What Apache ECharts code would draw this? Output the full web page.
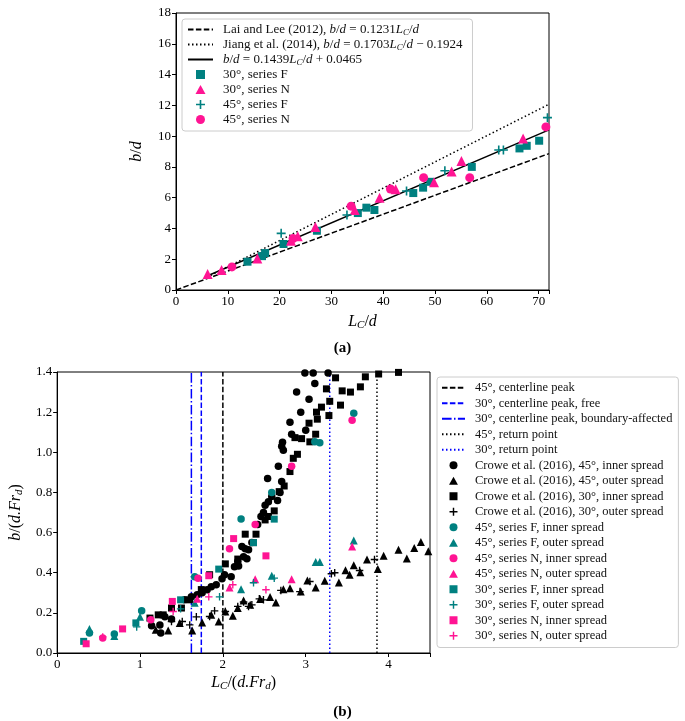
<!DOCTYPE html>
<html><head><meta charset="utf-8">
<script src="https://cdn.jsdelivr.net/npm/echarts@6/dist/echarts.min.js"></script>
<style>html,body{margin:0;padding:0;background:#fff}#c{width:685px;height:721px}</style>
</head><body><div id="c"></div><script>
// ---------- Panel (a) data ----------
var aXTicks = [0, 10, 20, 30, 40, 50, 60, 70];
var aYTicks = [0, 2, 4, 6, 8, 10, 12, 14, 16, 18];
// fitted lines: [slope, intercept], x-range
var laiCoef = [0.1231, 0];      var laiRange = [0, 72];
var jiangCoef = [0.1703, -0.1924]; var jiangRange = [6, 72];
var fitCoef = [0.1439, 0.0465];  var fitRange = [6, 72];
var a30F = [[13.8,1.84],[16.6,2.2],[17.2,2.4],[20.75,2.99],[27.2,3.85],[35.1,5.0],[36.75,5.35],[38.3,5.2],[45.8,6.3],[47.7,6.65],[49.1,7.03],[57.1,8.0],[66.3,9.2],[67.7,9.37],[70.1,9.7]];
var a30N = [[6.1,1.04],[8.8,1.3],[15.7,2.05],[22.2,3.2],[23.5,3.5],[26.9,4.1],[34.5,5.2],[39.3,6.0],[42.4,6.54],[49.8,7.0],[53.2,7.7],[55.1,8.38],[67.0,9.85]];
var a45F = [[20.3,3.68],[33.0,4.87],[44.5,6.43],[51.9,7.75],[62.3,9.1],[63.2,9.1],[71.7,11.2]];
var a45N = [[10.8,1.5],[22.6,3.35],[33.8,5.45],[41.4,6.56],[47.8,7.3],[56.7,7.3],[71.4,10.6]];

// ---------- Panel (b) data ----------
var bXTicks = [0, 1, 2, 3, 4];
var bYTicks = [0, 0.2, 0.4, 0.6, 0.8, 1.0, 1.2, 1.4];
var vPeak45 = 2.0, vPeak30free = 1.74, vPeak30bound = 1.62, vReturn45 = 3.86, vReturn30 = 3.29;
var crowe45in = [[1.14,0.136],[1.24,0.14],[1.25,0.10],[1.30,0.18],[1.38,0.17],[1.54,0.265],[1.62,0.28],[1.69,0.29],[1.75,0.30],[1.81,0.315],[1.86,0.33],[1.92,0.34],[1.99,0.37],[2.02,0.39],[2.10,0.38],[2.14,0.43],[2.18,0.456],[2.19,0.434],[2.23,0.53],[2.25,0.48],[2.27,0.52],[2.29,0.47],[2.31,0.514],[2.35,0.55],[2.42,0.64],[2.46,0.68],[2.49,0.70],[2.51,0.736],[2.54,0.87],[2.55,0.754],[2.59,0.78],[2.66,0.76],[2.67,0.93],[2.69,0.80],[2.71,0.854],[2.71,1.03],[2.72,1.05],[2.73,1.01],[2.81,1.15],[2.83,1.09],[2.89,1.30],[2.94,1.20],[3.00,1.11],[3.04,1.264],[3.11,1.343],[2.99,1.395],[3.09,1.395],[3.27,1.395]];
var crowe45out = [[1.19,0.116],[1.34,0.112],[1.48,0.15],[1.63,0.112],[1.75,0.152],[1.86,0.19],[1.95,0.157],[2.03,0.207],[2.12,0.186],[2.18,0.224],[2.25,0.262],[2.33,0.24],[2.45,0.269],[2.57,0.279],[2.64,0.252],[2.73,0.318],[2.81,0.323],[2.94,0.306],[3.02,0.361],[3.12,0.326],[3.23,0.36],[3.40,0.351],[3.48,0.412],[3.53,0.39],[3.58,0.437],[3.66,0.402],[3.74,0.466],[3.87,0.419],[3.94,0.484],[4.12,0.514],[4.22,0.471],[4.31,0.523],[4.39,0.553],[4.48,0.507]];
var crowe30in = [[1.12,0.174],[1.22,0.19],[1.28,0.19],[1.38,0.224],[1.50,0.224],[1.60,0.265],[1.74,0.316],[1.84,0.39],[2.03,0.444],[2.18,0.468],[2.27,0.592],[2.37,0.55],[2.40,0.592],[2.51,0.663],[2.55,0.68],[2.62,0.708],[2.68,0.804],[2.74,0.832],[2.81,0.904],[2.85,0.97],[2.90,0.99],[2.87,1.073],[2.95,1.068],[3.05,1.052],[3.04,1.145],[3.12,1.09],[3.13,1.20],[3.14,1.165],[3.19,1.225],[3.28,1.183],[3.29,1.254],[3.25,1.316],[3.36,1.371],[3.42,1.235],[3.44,1.306],[3.54,1.30],[3.66,1.326],[3.72,1.376],[3.88,1.39],[4.12,1.398]];
var crowe30out = [[1.38,0.157],[1.51,0.157],[1.60,0.14],[1.68,0.18],[1.84,0.182],[1.90,0.21],[2.03,0.207],[2.18,0.232],[2.25,0.254],[2.31,0.232],[2.35,0.24],[2.44,0.27],[2.49,0.265],[2.70,0.312],[2.93,0.306],[3.05,0.356],[3.31,0.395],[3.35,0.40],[3.65,0.411],[3.83,0.466]];
var b45Fin = [[0.39,0.10],[0.69,0.095],[1.02,0.21],[1.66,0.38],[2.22,0.668],[2.59,0.80],[3.11,1.053],[3.17,1.048],[3.58,1.194]];
var b45Fout = [[0.39,0.12],[0.69,0.085],[1.00,0.18],[1.66,0.25],[2.22,0.318],[2.59,0.385],[3.12,0.453],[3.17,0.453],[3.58,0.56]];
var b45Nin = [[0.55,0.075],[1.13,0.166],[1.70,0.373],[2.08,0.52],[2.39,0.64],[2.83,0.93],[3.56,1.16]];
var b45Nout = [[1.69,0.27],[2.08,0.326],[2.39,0.368],[2.83,0.368],[3.56,0.53]];
var b30Fin = [[0.32,0.058],[0.95,0.15],[1.49,0.265],[1.95,0.418],[2.37,0.55],[2.62,0.667]];
var b30Fout = [[0.96,0.13],[1.49,0.22],[1.96,0.28],[2.37,0.35],[2.62,0.373]];
var b30Nin = [[0.35,0.046],[0.79,0.12],[1.39,0.257],[1.83,0.385],[2.13,0.57],[2.52,0.484]];
var b30Nout = [[0.55,0.08],[1.40,0.207],[1.83,0.28],[2.12,0.34],[2.52,0.315]];

// ---------- styles ----------
var TEAL = '#008080', PINK = '#ff1493', BLUE = '#0000ff', BLACK = '#000';
var SERIF = 'Liberation Serif';
var PLUS = 'path://M0,4.1H10V5.9H0Z M4.1,0H5.9V10H4.1Z';
var SQUARE = 'path://M0,0H10V10H0Z';
var TRI = 'path://M5,0L10,9H0Z';
var DASH = [5.5, 2.4], DOT = [1.5, 2.5], DASHDOT = [9.6, 2.4, 1.5, 2.4];

function fitLine(coef, range) {
  return range.map(function (x) { return [x, coef[0] * x + coef[1]]; });
}
function vline(x) { return [[x, bYTicks[0]], [x, bYTicks[bYTicks.length - 1]]]; }

var richStyles = {
  i: {fontFamily: SERIF, fontStyle: 'italic', fontSize: 13, lineHeight: 15, color: '#111'},
  s: {fontFamily: SERIF, fontStyle: 'italic', fontSize: 9, lineHeight: 11, verticalAlign: 'bottom', color: '#111'},
  n: {fontFamily: SERIF, fontSize: 13, lineHeight: 15, color: '#111'}
};
var nameRich = {
  i: {fontFamily: SERIF, fontStyle: 'italic', fontSize: 16, lineHeight: 18, color: '#000'},
  s: {fontFamily: SERIF, fontStyle: 'italic', fontSize: 11, lineHeight: 13, verticalAlign: 'bottom', color: '#000'},
  n: {fontFamily: SERIF, fontSize: 16, lineHeight: 18, color: '#000'}
};

var N_LAI = 'Lai and Lee (2012), b/d = 0.1231L_C/d';
var N_JIANG = 'Jiang et al. (2014), b/d = 0.1703L_C/d − 0.1924';
var N_FIT = 'b/d = 0.1439L_C/d + 0.0465';
var legendRich = {};
legendRich[N_LAI] = '{n|Lai and Lee (2012), }{i|b}{n|/}{i|d}{n| = 0.1231}{i|L}{s|C}{n|/}{i|d}';
legendRich[N_JIANG] = '{n|Jiang et al. (2014), }{i|b}{n|/}{i|d}{n| = 0.1703}{i|L}{s|C}{n|/}{i|d}{n| − 0.1924}';
legendRich[N_FIT] = '{i|b}{n|/}{i|d}{n| = 0.1439}{i|L}{s|C}{n|/}{i|d}{n| + 0.0465}';

function axisBase(gridIdx) {
  return {
    gridIndex: gridIdx, type: 'value',
    axisLine: {show: true, onZero: false, lineStyle: {color: BLACK, width: 1}},
    axisTick: {show: true, length: 4, lineStyle: {color: BLACK, width: 1}},
    axisLabel: {color: '#000', fontFamily: SERIF, fontSize: 13, margin: 5},
    splitLine: {show: false}
  };
}

var xa0 = axisBase(0);
Object.assign(xa0, {min: aXTicks[0], max: 72, interval: 10, name: '{i|L}{s|C}{n|/}{i|d}', nameLocation: 'middle', nameGap: 23,
  nameTextStyle: {rich: nameRich}});
xa0.axisLabel.formatter = function (v) { return aXTicks.indexOf(v) >= 0 ? String(v) : ''; };
var ya0 = axisBase(0);
Object.assign(ya0, {min: aYTicks[0], max: aYTicks[aYTicks.length - 1], interval: 2, name: '{i|b}{n|/}{i|d}', nameLocation: 'middle', nameGap: 30, nameRotate: 90,
  nameTextStyle: {rich: nameRich}});
var xa1 = axisBase(1);
Object.assign(xa1, {min: bXTicks[0], max: 4.5, interval: 1, name: '{i|L}{s|C}{n|/(}{i|d.Fr}{s|d}{n|)}', nameLocation: 'middle', nameGap: 21,
  nameTextStyle: {rich: nameRich}});
xa1.axisLabel.formatter = function (v) { return bXTicks.indexOf(v) >= 0 ? String(v) : ''; };
var ya1 = axisBase(1);
Object.assign(ya1, {min: 0, max: 1.4, interval: 0.2, name: '{i|b}{n|/(}{i|d.Fr}{s|d}{n|)}', nameLocation: 'middle', nameGap: 30, nameRotate: 90,
  nameTextStyle: {rich: nameRich}});
ya1.axisLabel.formatter = function (v) { return v.toFixed(1); };

function sc(name, data, g, symbol, size, color) {
  return {type: 'scatter', name: name, xAxisIndex: g, yAxisIndex: g, data: data, symbol: symbol, symbolSize: size,
    itemStyle: {color: color, opacity: 1}, emphasis: {disabled: true}, animation: false};
}
function ln(name, data, g, color, dash) {
  return {type: 'line', name: name, xAxisIndex: g, yAxisIndex: g, data: data, symbol: 'none', showSymbol: false,
    lineStyle: {color: color, width: 1.5, type: dash}, itemStyle: {color: color}, emphasis: {disabled: true}, animation: false, z: 1};
}

var series = [
  ln(N_LAI, fitLine(laiCoef, laiRange), 0, BLACK, DASH),
  ln(N_JIANG, fitLine(jiangCoef, jiangRange), 0, BLACK, DOT),
  ln(N_FIT, fitLine(fitCoef, fitRange), 0, BLACK, 'solid'),
  sc('30°, series F', a30F, 0, 'rect', 8, TEAL),
  sc('30°, series N', a30N, 0, 'triangle', 10, PINK),
  sc('45°, series F', a45F, 0, PLUS, 9, TEAL),
  sc('45°, series N', a45N, 0, 'circle', 9, PINK),

  ln('45°, centerline peak', vline(vPeak45), 1, BLACK, DASH),
  ln('30°, centerline peak, free', vline(vPeak30free), 1, BLUE, DASH),
  ln('30°, centerline peak, boundary-affected', vline(vPeak30bound), 1, BLUE, DASHDOT),
  ln('45°, return point', vline(vReturn45), 1, BLACK, DOT),
  ln('30°, return point', vline(vReturn30), 1, BLUE, DOT),
  sc('Crowe et al. (2016), 45°, inner spread', crowe45in, 1, 'circle', 7.5, BLACK),
  sc('Crowe et al. (2016), 45°, outer spread', crowe45out, 1, 'triangle', 8, BLACK),
  sc('Crowe et al. (2016), 30°, inner spread', crowe30in, 1, 'rect', 7, BLACK),
  sc('Crowe et al. (2016), 30°, outer spread', crowe30out, 1, PLUS, 7.5, BLACK),
  sc('45°, series F, inner spread', b45Fin, 1, 'circle', 7.5, TEAL),
  sc('45°, series F, outer spread', b45Fout, 1, 'triangle', 8, TEAL),
  sc('45°, series N, inner spread', b45Nin, 1, 'circle', 7.5, PINK),
  sc('45°, series N, outer spread', b45Nout, 1, 'triangle', 8, PINK),
  sc('30°, series F, inner spread', b30Fin, 1, 'rect', 7, TEAL),
  sc('30°, series F, outer spread', b30Fout, 1, PLUS, 7.5, TEAL),
  sc('30°, series N, inner spread', b30Nin, 1, 'rect', 7, PINK),
  sc('30°, series N, outer spread', b30Nout, 1, PLUS, 7.5, PINK)
];

function legendItems(list) {
  return list.map(function (s) {
    if (s.type === 'line') return {name: s.name, itemStyle: {opacity: 0}};
    var icon = s.symbol === 'rect' ? SQUARE : (s.symbol === 'triangle' ? TRI : s.symbol);
    return {name: s.name, icon: icon};
  });
}
var topItems = legendItems(series.slice(0, 7));
var botItems = legendItems(series.slice(7));

var option = {
  backgroundColor: '#fff',
  animation: false,
  grid: [
    {left: 176, top: 13, width: 373, height: 277, show: true, borderColor: BLACK, borderWidth: 1, backgroundColor: 'transparent'},
    {left: 52, top: 372, width: 378, height: 281, show: true, borderColor: BLACK, borderWidth: 1, backgroundColor: 'transparent'}
  ],
  xAxis: [xa0, xa1],
  yAxis: [ya0, ya1],
  legend: [
    {data: topItems, orient: 'vertical', left: 182, top: 19, padding: [3, 10, 4, 5], itemGap: 0,
      itemWidth: 25, itemHeight: 9, symbolKeepAspect: true, backgroundColor: '#fff', borderColor: '#ccc', borderWidth: 1, borderRadius: 3,
      selectedMode: false,
      textStyle: {fontFamily: SERIF, fontSize: 13, color: '#111', lineHeight: 15.1, padding: [0, 0, 0, 5], rich: richStyles},
      formatter: function (n) { return legendRich[n] || ('{n|' + n + '}'); }},
    {data: botItems, orient: 'vertical', left: 437, top: 377, padding: [3, 6, 4, 4], itemGap: 0,
      itemWidth: 23, itemHeight: 8, symbolKeepAspect: true, backgroundColor: '#fff', borderColor: '#ccc', borderWidth: 1, borderRadius: 3,
      selectedMode: false,
      textStyle: {fontFamily: SERIF, fontSize: 12.5, color: '#111', lineHeight: 15.5, padding: [0, 0, 0, 5]}}
  ],
  graphic: [
    {type: 'text', left: 'center', top: 341, style: {text: '(a)', font: 'bold 15px ' + SERIF, fill: '#000'}},
    {type: 'text', left: 'center', top: 705, style: {text: '(b)', font: 'bold 15px ' + SERIF, fill: '#000'}}
  ],
  series: series
};
var chart = echarts.init(document.getElementById('c'), null, {renderer: 'canvas'});
chart.setOption(option);
</script></body></html>
